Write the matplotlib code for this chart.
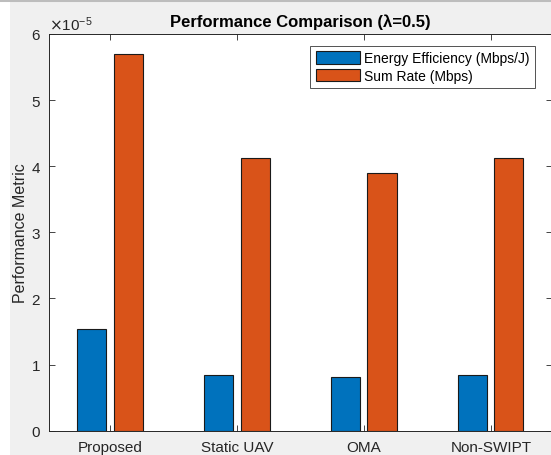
import numpy as np
import matplotlib
matplotlib.use('Agg')
import matplotlib.pyplot as plt
from matplotlib.patches import Rectangle
from matplotlib.lines import Line2D
from matplotlib.ticker import ScalarFormatter, FixedLocator

plt.rcParams['font.family'] = ['Liberation Sans', 'DejaVu Sans']

schemes = ['Proposed', 'Static UAV', 'OMA', 'Non-SWIPT']
energy_eff = [1.534e-5, 0.847e-5, 0.808e-5, 0.847e-5]
sum_rate = [5.70e-5, 4.13e-5, 3.90e-5, 4.12e-5]
series_names = ['Energy Efficiency (Mbps/J)', 'Sum Rate (Mbps)']

blue = '#0072BD'
orange = '#D95319'

W, H = 551, 456
fig = plt.figure(figsize=(W / 100, H / 100), dpi=100, facecolor='white')

# window-style grey panel with a thin border line on top
fig.patches.append(Rectangle((10 / W, 0), 1, 1 - 3 / H, transform=fig.transFigure,
                             facecolor='#f0f0f0', edgecolor='none', zorder=-10))
fig.lines.append(Line2D([0, 1], [1 - 1.2 / H, 1 - 1.2 / H], transform=fig.transFigure,
                        color='#bdbdbd', lw=2.2, zorder=-9))

left, right, top, bottom = 49.3, 551.5, 35.0, 431.7
ax = fig.add_axes([left / W, 1 - bottom / H, (right - left) / W, (bottom - top) / H])

x = np.arange(1, len(schemes) + 1)
off = 1 / 7
bw = 0.229
ax.bar(x - off, energy_eff, bw, color=blue, edgecolor='#1a1a1a', linewidth=0.8,
       label=series_names[0], zorder=3)
ax.bar(x + off, sum_rate, bw, color=orange, edgecolor='#1a1a1a', linewidth=0.8,
       label=series_names[1], zorder=3)

ax.set_xlim(0.522, 4.478)
ax.set_ylim(0, 6e-5)
ax.set_xticks(x)
ax.set_xticklabels(schemes)
ax.yaxis.set_major_locator(FixedLocator(np.arange(0, 7) * 1e-5))
fmt = ScalarFormatter(useMathText=True)
fmt.set_powerlimits((0, 0))
ax.yaxis.set_major_formatter(fmt)
ax.yaxis.get_offset_text().set_fontsize(11)
ax.yaxis.get_offset_text().set_color('#404040')

ax.tick_params(direction='in', length=4, width=0.6, colors='#262626',
               labelsize=11, top=True, right=True, pad=6)
ax.tick_params(axis='x', pad=7)
for s in ax.spines.values():
    s.set_color('#262626')
    s.set_linewidth(0.7)

ax.set_ylabel('Performance Metric', fontsize=11.5, color='#262626', labelpad=2)
ax.set_title('Performance Comparison (\u03bb=0.5)', fontsize=12, fontweight='bold',
             color='black', pad=6)

leg = ax.legend(loc='upper right', bbox_to_anchor=(0.968, 0.97), fontsize=10,
                frameon=True, fancybox=False, edgecolor='#262626', handlelength=3.2,
                handleheight=1.0, handletextpad=0.3, borderpad=0.4, labelspacing=0.25,
                borderaxespad=0)
leg.get_frame().set_linewidth(0.7)

fig.savefig('out.png', dpi=100, facecolor=fig.get_facecolor())
